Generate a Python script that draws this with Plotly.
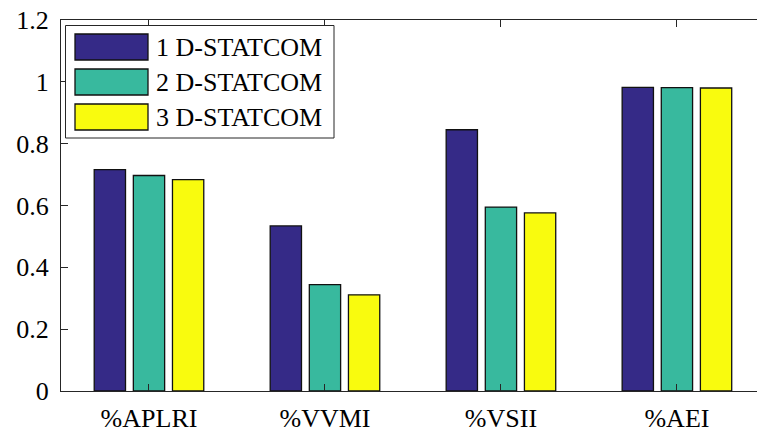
import plotly.graph_objects as go

# Index values for each placement scenario
categories = ["%APLRI", "%VVMI", "%VSII", "%AEI"]
series_names = ["1 D-STATCOM", "2 D-STATCOM", "3 D-STATCOM"]
one_dstatcom = [0.716, 0.534, 0.845, 0.982]
two_dstatcom = [0.697, 0.344, 0.595, 0.981]
three_dstatcom = [0.684, 0.311, 0.576, 0.980]
series_values = [one_dstatcom, two_dstatcom, three_dstatcom]
colors = ["#352a87", "#38b99e", "#f9fb0e"]
y_ticks = [0, 0.2, 0.4, 0.6, 0.8, 1.0, 1.2]

W, H = 757, 432
ML, MR, MT, MB = 61, 0, 20, 41
PW, PH = W - ML - MR, H - MT - MB
FONT = "Liberation Serif"


def px_x(p):
    return (p - ML) / PW


def px_y(p):
    return (H - MB - p) / PH


fig = go.Figure()
for name, vals, col in zip(series_names, series_values, colors):
    fig.add_trace(go.Bar(
        x=categories, y=vals, name=name, showlegend=False,
        marker=dict(color=col, line=dict(color="#111111", width=1.3)),
    ))

# Boxed legend with wide swatches
shapes = [dict(type="rect", xref="paper", yref="paper",
               x0=px_x(65.5), x1=px_x(334), y0=px_y(138), y1=px_y(25.5),
               line=dict(color="#262626", width=1), fillcolor="white", layer="above")]
annotations = []
row_top = [34, 69, 104]
for name, col, top in zip(series_names, colors, row_top):
    shapes.append(dict(type="rect", xref="paper", yref="paper",
                       x0=px_x(75), x1=px_x(148), y0=px_y(top + 26), y1=px_y(top),
                       line=dict(color="#111111", width=1.3), fillcolor=col, layer="above"))
    annotations.append(dict(xref="paper", yref="paper", x=px_x(154), y=px_y(top + 13),
                            text=name, showarrow=False, xanchor="left", yanchor="middle",
                            font=dict(family=FONT, size=26, color="black")))

fig.update_layout(
    width=W, height=H,
    margin=dict(l=ML, r=MR, t=MT, b=MB, pad=0, autoexpand=False),
    paper_bgcolor="white", plot_bgcolor="white",
    barmode="group", bargap=0.333, bargroupgap=0.2,
    font=dict(family=FONT, size=26, color="black"),
    shapes=shapes, annotations=annotations,
    xaxis=dict(range=[-0.5, 3.455], showline=True, linecolor="#262626", linewidth=1,
               mirror="ticks", ticks="inside", ticklen=7, tickcolor="#262626",
               showgrid=False, zeroline=False, ticklabelstandoff=4, automargin=False,
               tickfont=dict(family=FONT, size=26, color="black")),
    yaxis=dict(range=[0, 1.2], tickvals=y_ticks, showline=True, linecolor="#262626",
               linewidth=1, mirror=False, ticks="inside", ticklen=7, tickcolor="#262626",
               showgrid=False, zeroline=False, ticklabelstandoff=6, automargin=False,
               tickfont=dict(family=FONT, size=26, color="black")),
)

fig.write_html("out.html")
